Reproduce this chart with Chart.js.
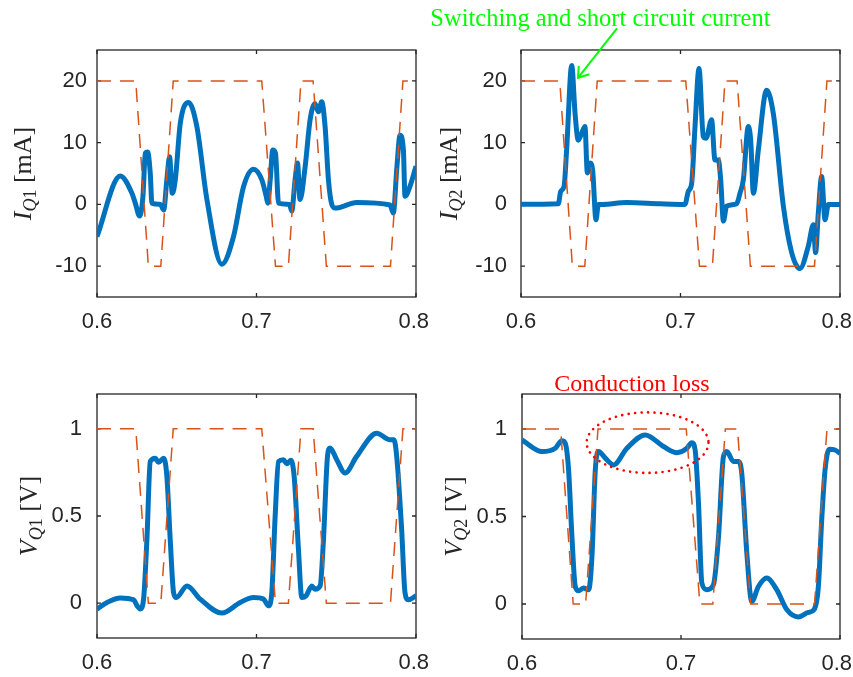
<!DOCTYPE html>
<html>
<head>
<meta charset="utf-8">
<title>Transistor current and voltage</title>
<script src="https://cdn.jsdelivr.net/npm/chart.js@4.4.0/dist/chart.umd.min.js"></script>
<style>
  body { margin: 0; background: #fff; }
  #wrap { position: relative; width: 853px; height: 677px; }
  #wrap canvas { position: absolute; }
</style>
</head>
<body>
<div id="wrap">
  <canvas id="iq1" width="430" height="340" style="left:0;top:0"></canvas>
  <canvas id="iq2" width="423" height="340" style="left:430px;top:0"></canvas>
  <canvas id="vq1" width="430" height="337" style="left:0;top:340px"></canvas>
  <canvas id="vq2" width="423" height="337" style="left:430px;top:340px"></canvas>
</div>
<script>
// Tick values
const xTicks = [0.6, 0.7, 0.8];
const iTicks = [-10, 0, 10, 20];
const vTicks = [0, 0.5, 1];

// Gate drive (dashed), same timing in every panel
const gateTime = [0.6, 0.6243, 0.6322, 0.6400, 0.6478, 0.7033, 0.7119, 0.7200, 0.7279, 0.7355, 0.7438, 0.7840, 0.7918, 0.8];
const gateCurrent = [20, 20, -10, -10, 20, 20, -10, -10, 20, 20, -10, -10, 20, 20];
const gateVoltage = [1, 1, 0, 0, 1, 1, 0, 0, 1, 1, 0, 0, 1, 1];

// Q1 current [mA]
const iQ1Time = [0.6, 0.6146, 0.6219, 0.6240, 0.6267, 0.6288, 0.6303, 0.6317, 0.6334, 0.6344,
  0.6397, 0.6418, 0.6438, 0.6455, 0.6472, 0.6491, 0.6522, 0.6574, 0.6626, 0.6689,
  0.6783, 0.6856, 0.6919, 0.6981, 0.7033, 0.7061, 0.7071, 0.7086, 0.7102, 0.7119,
  0.7138, 0.7207, 0.7221, 0.7242, 0.7257, 0.7273, 0.7305, 0.7336, 0.7367, 0.7388,
  0.7409, 0.7430, 0.7451, 0.7472, 0.7493, 0.7628, 0.7837, 0.7858, 0.7879, 0.7900,
  0.7921, 0.7931, 0.7962, 0.8];
const iQ1 = [-5.2, 4.6, 1.8, 0.2, -1.9, 1.3, 8.3, 8.5, 5, 0.2,
  0, -0.9, 4, 7.7, 1.8, 4, 13.1, 16.5, 12.6, 0.8,
  -9.7, -5.2, 2.9, 5.7, 4, 1.3, 0.2, 4, 8.8, 8.3,
  0.2, 0, -1.1, 4, 6.7, 0.8, 6.1, 13.7, 16.3, 15,
  16.6, 12.6, 4, 0, -0.6, 0.3, -0.1, -1.4, 5.6, 11.2,
  8.8, 1.3, 2.9, 6.2];

// Q2 current [mA]
const iQ2Time = [0.6, 0.6234, 0.6249, 0.6270, 0.6286, 0.6318, 0.6339, 0.6359, 0.6380, 0.6401,
  0.6416, 0.6433, 0.6449, 0.6470, 0.6485, 0.6506, 0.6662, 0.6871, 0.7028, 0.7049,
  0.7070, 0.7091, 0.7116, 0.7143, 0.7160, 0.7195, 0.7216, 0.7237, 0.7252, 0.7269,
  0.7289, 0.7352, 0.7373, 0.7394, 0.7425, 0.7440, 0.7457, 0.7488, 0.7540, 0.7582,
  0.7645, 0.7697, 0.7749, 0.7801, 0.7833, 0.7847, 0.7864, 0.7885, 0.7906, 0.7927,
  0.8];
const iQ2 = [0, 0.1, 2.1, 2.9, 8.8, 22.5, 14.7, 10.4, 11.5, 12.6,
  5.1, 6.7, 5.6, -2.5, 0, 0, 0.3, 0.1, 0, 2.1,
  3.4, 12.6, 22, 11, 10.7, 13.7, 7.2, 7.2, 4, -2.7,
  -0.3, 0.1, 1.8, 4, 12.6, 10.4, 1.8, 8.8, 18.5, 14.7,
  -0.3, -7.8, -10.4, -6.8, -3.3, -7.8, -1.4, 4.5, -2.5, 0,
  0];

// Q1 voltage [V]
const vQ1Time = [0.6, 0.6063, 0.6146, 0.6230, 0.6251, 0.6271, 0.6292, 0.6313, 0.6334, 0.6365,
  0.6386, 0.6418, 0.6438, 0.6459, 0.6480, 0.6497, 0.6564, 0.6647, 0.6783, 0.6898,
  0.6981, 0.7044, 0.7075, 0.7096, 0.7117, 0.7138, 0.7169, 0.7190, 0.7215, 0.7236,
  0.7263, 0.7284, 0.7311, 0.7347, 0.7367, 0.7399, 0.7420, 0.7445, 0.7461, 0.7503,
  0.7555, 0.7628, 0.7754, 0.7837, 0.7862, 0.7879, 0.7910, 0.7931, 0.7952, 0.8];
const vQ1 = [-0.034, 0.004, 0.03, 0.019, -0.015, -0.034, 0.023, 0.366, 0.813, 0.832,
  0.808, 0.832, 0.728, 0.366, 0.061, 0.032, 0.099, 0.023, -0.057, 0.004,
  0.032, 0.023, -0.015, 0.061, 0.5, 0.813, 0.823, 0.8, 0.82, 0.728,
  0.309, 0.032, 0.042, 0.099, 0.08, 0.099, 0.366, 0.842, 0.89, 0.823,
  0.747, 0.842, 0.975, 0.937, 0.937, 0.842, 0.423, 0.061, 0.019, 0.042];

// Q2 voltage [V]
const vQ2Time = [0.6, 0.6126, 0.6209, 0.6251, 0.6272, 0.6293, 0.6314, 0.6335, 0.6356, 0.6387,
  0.6419, 0.6440, 0.6461, 0.6482, 0.6524, 0.6576, 0.6660, 0.6775, 0.6890, 0.6974,
  0.7037, 0.7068, 0.7089, 0.7110, 0.7131, 0.7162, 0.7204, 0.7236, 0.7267, 0.7288,
  0.7330, 0.7361, 0.7382, 0.7414, 0.7445, 0.7487, 0.7539, 0.7602, 0.7665, 0.7738,
  0.7801, 0.7837, 0.7864, 0.7885, 0.7906, 0.7933, 0.7969, 0.8];
const vQ2 = [0.937, 0.871, 0.89, 0.933, 0.918, 0.766, 0.386, 0.1, 0.076, 0.091,
  0.082, 0.272, 0.766, 0.871, 0.833, 0.795, 0.89, 0.966, 0.9, 0.865,
  0.89, 0.922, 0.88, 0.576, 0.12, 0.082, 0.11, 0.386, 0.842, 0.871,
  0.814, 0.814, 0.747, 0.291, 0.015, 0.1, 0.148, 0.082, -0.032, -0.074,
  -0.048, -0.032, 0.1, 0.481, 0.766, 0.884, 0.88, 0.861];

const BLUE = '#0072BD';
const ORANGE = '#D95319';
const AXIS = '#262626';
const SERIF = '"Liberation Serif", "DejaVu Serif", serif';
const SANS = '"Liberation Sans", Arial, sans-serif';

function toPoints(xs, ys) {
    return xs.map((x, i) => ({ x: x, y: ys[i] }));
}

// Box around the plot area with inward tick marks
const framePlugin = {
    id: 'frame',
    beforeDatasetsDraw(chart) {
        const { ctx, chartArea: a, scales } = chart;
        ctx.save();
        ctx.strokeStyle = AXIS;
        ctx.lineWidth = 1.3;
        ctx.strokeRect(a.left, a.top, a.right - a.left, a.bottom - a.top);
        ctx.beginPath();
        scales.x.ticks.forEach(t => {
            const px = scales.x.getPixelForValue(t.value);
            ctx.moveTo(px, a.bottom); ctx.lineTo(px, a.bottom - 4);
            ctx.moveTo(px, a.top); ctx.lineTo(px, a.top + 4);
        });
        scales.y.ticks.forEach(t => {
            const py = scales.y.getPixelForValue(t.value);
            ctx.moveTo(a.left, py); ctx.lineTo(a.left + 4, py);
            ctx.moveTo(a.right, py); ctx.lineTo(a.right - 4, py);
        });
        ctx.stroke();
        ctx.restore();
    }
};

// Time tick labels, kept inside the canvas at the right edge
const xLabelPlugin = {
    id: 'xLabels',
    afterDraw(chart) {
        const { ctx, chartArea: a, scales: { x }, width } = chart;
        ctx.save();
        ctx.fillStyle = AXIS;
        ctx.font = '22px ' + SANS;
        ctx.textAlign = 'center';
        ctx.textBaseline = 'middle';
        x.ticks.forEach(t => {
            const text = t.value.toFixed(1);
            const half = ctx.measureText(text).width / 2;
            const px = Math.min(x.getPixelForValue(t.value), width - half - 1);
            ctx.fillText(text, px, a.bottom + 25);
        });
        ctx.restore();
    }
};

// Rotated y label with a subscript, e.g. I_Q1 [mA]
function yLabel(symbol, sub, unit, x) {
    const parts = [
        { text: symbol, font: 'italic 26px ' + SERIF, dy: 0 },
        { text: 'Q', font: 'italic 18px ' + SERIF, dy: 5 },
        { text: sub, font: '18px ' + SERIF, dy: 5 },
        { text: ' [' + unit + ']', font: '26px ' + SERIF, dy: 0 }
    ];
    return {
        id: 'yLabel',
        afterDraw(chart) {
            const { ctx, chartArea: a } = chart;
            ctx.save();
            ctx.translate(x, (a.top + a.bottom) / 2);
            ctx.rotate(-Math.PI / 2);
            ctx.fillStyle = AXIS;
            ctx.textBaseline = 'alphabetic';
            let w = 0;
            parts.forEach(p => { ctx.font = p.font; w += ctx.measureText(p.text).width; });
            let cx = -w / 2;
            parts.forEach(p => {
                ctx.font = p.font;
                ctx.fillText(p.text, cx, p.dy);
                cx += ctx.measureText(p.text).width;
            });
            ctx.restore();
        }
    };
}

// Green note and arrow pointing at the Q2 current spike
const spikeNote = {
    id: 'spikeNote',
    afterDraw(chart) {
        const { ctx, chartArea: a, scales: { x, y } } = chart;
        ctx.save();
        ctx.fillStyle = '#00FF00';
        ctx.font = '24.5px ' + SERIF;
        ctx.textAlign = 'center';
        ctx.fillText('Switching and short circuit current', x.getPixelForValue(0.6498), a.top - 24);

        const x0 = x.getPixelForValue(0.6602), y0 = y.getPixelForValue(28.5);
        const x1 = x.getPixelForValue(0.6357), y1 = y.getPixelForValue(20.5);
        const ang = Math.atan2(y0 - y1, x0 - x1);
        ctx.strokeStyle = '#00FF00';
        ctx.lineWidth = 2;
        ctx.beginPath();
        ctx.moveTo(x0, y0); ctx.lineTo(x1, y1);
        ctx.moveTo(x1 + 12 * Math.cos(ang - 0.6), y1 + 12 * Math.sin(ang - 0.6));
        ctx.lineTo(x1, y1);
        ctx.lineTo(x1 + 12 * Math.cos(ang + 0.6), y1 + 12 * Math.sin(ang + 0.6));
        ctx.stroke();
        ctx.restore();
    }
};

// Red note and dotted ellipse over the Q2 on-state voltage
const lossNote = {
    id: 'lossNote',
    afterDraw(chart) {
        const { ctx, chartArea: a, scales: { x, y } } = chart;
        ctx.save();
        ctx.fillStyle = '#FF0000';
        ctx.font = '24px ' + SERIF;
        ctx.textAlign = 'center';
        ctx.fillText('Conduction loss', x.getPixelForValue(0.6692), a.top - 3);

        const cx = x.getPixelForValue(0.679), cy = y.getPixelForValue(0.922);
        const rx = x.getPixelForValue(0.679 + 0.0383) - cx;
        const ry = cy - y.getPixelForValue(0.922 + 0.173);
        ctx.strokeStyle = '#FF0000';
        ctx.lineWidth = 2.6;
        ctx.lineCap = 'round';
        ctx.setLineDash([0.1, 6.4]);
        ctx.beginPath();
        ctx.ellipse(cx, cy, rx, ry, 0, 0, Math.PI * 2);
        ctx.stroke();
        ctx.restore();
    }
};

function makePanel(id, p) {
    const ctx = document.getElementById(id).getContext('2d');
    return new Chart(ctx, {
        type: 'line',
        data: {
            datasets: [
                {
                    data: p.gate,
                    borderColor: ORANGE,
                    borderWidth: 1.5,
                    borderDash: [14, 9],
                    pointRadius: 0,
                    tension: 0,
                    order: 0
                },
                {
                    data: p.trace,
                    borderColor: BLUE,
                    borderWidth: 5,
                    pointRadius: 0,
                    cubicInterpolationMode: 'monotone',
                    order: 1
                }
            ]
        },
        options: {
            responsive: false,
            animation: false,
            events: [],
            layout: { padding: { left: 0, top: p.top, right: p.right, bottom: 0 } },
            plugins: {
                legend: { display: false },
                tooltip: { enabled: false }
            },
            scales: {
                x: {
                    type: 'linear',
                    min: 0.6,
                    max: 0.8,
                    grid: { display: false, drawTicks: false },
                    border: { display: false },
                    afterBuildTicks: s => { s.ticks = xTicks.map(v => ({ value: v })); },
                    afterFit: s => { s.height = p.xh; s.paddingLeft = 0; s.paddingRight = 0; },
                    ticks: { display: false }
                },
                y: {
                    min: p.yMin,
                    max: p.yMax,
                    grid: { display: false, drawTicks: false },
                    border: { display: false },
                    afterBuildTicks: s => { s.ticks = p.yTicks.map(v => ({ value: v })); },
                    afterFit: s => { s.width = p.yw; s.paddingTop = 0; s.paddingBottom = 0; },
                    ticks: {
                        autoSkip: false,
                        padding: p.tickPad,
                        color: AXIS,
                        font: { family: SANS, size: 22 },
                        callback: v => String(v)
                    }
                }
            }
        },
        plugins: [framePlugin, xLabelPlugin, p.label].concat(p.extra || [])
    });
}

makePanel('iq1', {
    gate: toPoints(gateTime, gateCurrent), trace: toPoints(iQ1Time, iQ1),
    yMin: -15, yMax: 25, yTicks: iTicks,
    top: 50, right: 14, xh: 43, yw: 97, tickPad: 10,
    label: yLabel('I', '1', 'mA', 31)
});

makePanel('iq2', {
    gate: toPoints(gateTime, gateCurrent), trace: toPoints(iQ2Time, iQ2),
    yMin: -15, yMax: 25, yTicks: iTicks,
    top: 50, right: 13, xh: 43, yw: 91, tickPad: 14,
    label: yLabel('I', '2', 'mA', 27),
    extra: [spikeNote]
});

makePanel('vq1', {
    gate: toPoints(gateTime, gateVoltage), trace: toPoints(vQ1Time, vQ1),
    yMin: -0.2, yMax: 1.2, yTicks: vTicks,
    top: 54, right: 14, xh: 39, yw: 97, tickPad: 15,
    label: yLabel('V', '1', 'V', 37)
});

makePanel('vq2', {
    gate: toPoints(gateTime, gateVoltage), trace: toPoints(vQ2Time, vQ2),
    yMin: -0.2, yMax: 1.2, yTicks: vTicks,
    top: 54, right: 13, xh: 38, yw: 92, tickPad: 15,
    label: yLabel('V', '2', 'V', 32),
    extra: [lossNote]
});
</script>
</body>
</html>
